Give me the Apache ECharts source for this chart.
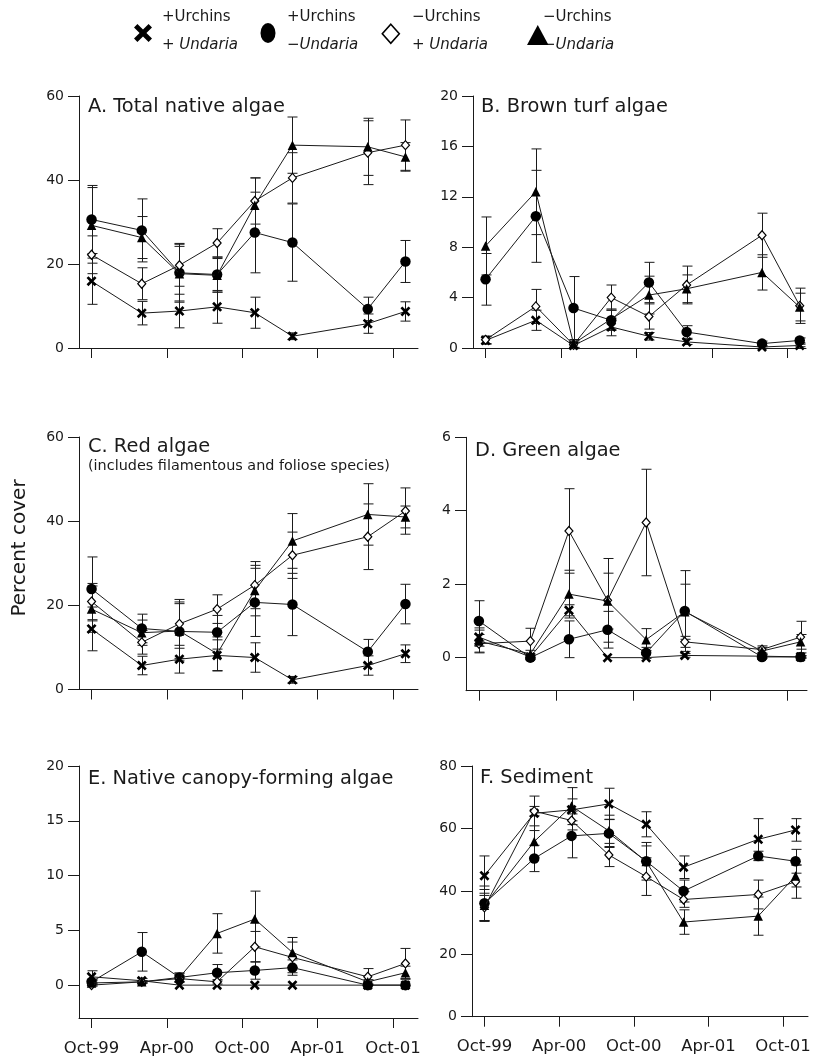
<!DOCTYPE html>
<html><head><meta charset="utf-8">
<script src="https://cdn.jsdelivr.net/npm/echarts@6/dist/echarts.min.js"></script>
<style>html,body{margin:0;padding:0;background:#fff}#c{width:820px;height:1058px}</style>
</head><body><div id="c"></div>
<script>
// ---- DATA ----
const months = [0, 4, 7, 10, 13, 16, 22, 25]; // months since Oct-99
const tickMonths = [0, 6, 12, 18, 24];
const tickLabels = ['Oct-99', 'Apr-00', 'Oct-00', 'Apr-01', 'Oct-01'];
const treatments = ['+Urchins +Undaria', '+Urchins −Undaria', '−Urchins +Undaria', '−Urchins −Undaria'];
const panelTitles = ['A. Total native algae', 'B. Brown turf algae', 'C. Red algae', 'D. Green algae', 'E. Native canopy-forming algae', 'F. Sediment'];
const subtitleC = '(includes filamentous and foliose species)';
const yAxisName = 'Percent cover';

// A. Total native algae
const A_pp = [15.9, 8.3, 8.8, 9.8, 8.4, 2.8, 5.8, 8.7];
const A_pp_err = [5.5, 2.8, 4.0, 3.9, 3.7, 0.8, 2.3, 2.3];
const A_pm = [30.6, 28.0, 17.9, 17.5, 27.5, 25.1, 9.3, 20.6];
const A_pm_err = [8.1, 7.5, 7.0, 4.2, 9.6, 9.2, 2.8, 5.0];
const A_mp = [22.2, 15.3, 19.7, 25.0, 35.0, 40.5, 46.5, 48.3];
const A_mp_err = [4.5, 3.8, 5.0, 3.4, 5.5, 6.0, 7.6, 6.0];
const A_mm = [29.2, 26.3, 17.7, 17.3, 34.0, 48.3, 47.9, 45.5];
const A_mm_err = [9.0, 5.0, 6.5, 4.0, 6.5, 6.7, 6.8, 3.4];
// B. Brown turf algae
const B_pp = [0.6, 2.2, 0.2, 1.67, 0.93, 0.48, 0.08, 0.2];
const B_pp_err = [0.3, 0.8, 0.2, 0.7, 0.3, 0.2, 0.1, 0.1];
const B_pm = [5.45, 10.45, 3.17, 2.2, 5.2, 1.27, 0.35, 0.6];
const B_pm_err = [2.05, 3.65, 2.5, 0.8, 1.6, 0.5, 0.2, 0.2];
const B_mp = [0.65, 3.3, 0.25, 4.0, 2.5, 5.0, 8.95, 3.35];
const B_mp_err = [0.3, 1.35, 0.3, 1.0, 1.0, 1.5, 1.75, 1.4];
const B_mm = [8.1, 12.4, 0.35, 2.3, 4.2, 4.7, 6.0, 3.25];
const B_mm_err = [2.3, 3.4, 0.3, 0.8, 1.5, 1.1, 1.4, 1.1];
// C. Red algae
const C_pp = [14.4, 5.7, 7.2, 8.1, 7.6, 2.3, 5.7, 8.5];
const C_pp_err = [5.2, 2.2, 3.3, 3.7, 3.5, 0.8, 2.3, 2.1];
const C_pm = [23.9, 14.5, 13.8, 13.6, 20.7, 20.2, 9.0, 20.3];
const C_pm_err = [7.6, 3.4, 7.0, 4.0, 8.1, 7.4, 2.9, 4.7];
const C_mp = [20.9, 11.2, 15.6, 19.1, 24.8, 31.9, 36.3, 42.4];
const C_mp_err = [4.3, 2.8, 5.8, 3.4, 5.6, 5.5, 7.8, 5.5];
const C_mm = [19.1, 13.5, 13.9, 8.5, 23.5, 35.3, 41.6, 41.0];
const C_mm_err = [5.5, 3.0, 6.5, 4.0, 6.0, 6.5, 7.3, 2.6];
// D. Green algae
const D_pp = [0.56, 0.02, 1.29, 0.0, 0.0, 0.06, 0.04, 0.02];
const D_pp_err = [0.25, 0.05, 0.15, 0, 0, 0.05, 0.05, 0.03];
const D_pm = [1.0, 0.0, 0.5, 0.76, 0.13, 1.27, 0.02, 0.02];
const D_pm_err = [0.55, 0.05, 0.5, 0.5, 0.15, 1.1, 0.03, 0.03];
const D_mp = [0.38, 0.45, 3.45, 1.56, 3.68, 0.43, 0.22, 0.56];
const D_mp_err = [0.25, 0.35, 1.15, 1.14, 1.45, 0.15, 0.1, 0.43];
const D_mm = [0.45, 0.1, 1.73, 1.54, 0.49, 1.25, 0.18, 0.43];
const D_mm_err = [0.3, 0.1, 0.65, 0.76, 0.3, 0.75, 0.1, 0.2];
// E. Native canopy-forming algae
const E_pp = [0.76, 0.4, 0, 0, 0, 0, 0, 0];
const E_pp_err = [0.55, 0.2, 0, 0, 0, 0, 0, 0];
const E_pm = [0.3, 3.04, 0.7, 1.13, 1.34, 1.6, 0, 0];
const E_pm_err = [0.2, 1.76, 0.4, 0.75, 0.8, 0.7, 0, 0];
const E_mp = [0.0, 0.3, 0.6, 0.3, 3.5, 2.53, 0.76, 1.98];
const E_mp_err = [0.1, 0.1, 0.3, 0.2, 1.4, 1.4, 0.75, 1.37];
const E_mm = [0.2, 0.3, 0.7, 4.72, 6.03, 2.98, 0.3, 1.13];
const E_mm_err = [0.2, 0.1, 0.4, 1.8, 2.55, 1.37, 0.2, 0.6];
// F. Sediment
const F_pp = [45.0, 64.9, 66.0, 67.9, 61.4, 47.7, 56.6, 59.6];
const F_pp_err = [6.3, 5.5, 3.5, 5.0, 4.0, 3.6, 6.6, 3.6];
const F_pm = [36.2, 50.5, 57.7, 58.5, 49.6, 40.1, 51.3, 49.6];
const F_pm_err = [5.5, 4.2, 7.0, 4.5, 6.0, 3.5, 1.5, 3.8];
const F_mp = [34.9, 65.6, 62.6, 51.6, 44.7, 37.4, 39.0, 43.1];
const F_mp_err = [4.5, 1.5, 3.0, 3.7, 6.0, 2.5, 4.6, 5.3];
const F_mm = [35.6, 55.9, 67.2, 59.3, 49.5, 30.2, 32.1, 44.9];
const F_mm_err = [5.0, 5.0, 5.9, 5.0, 5.0, 3.9, 6.1, 3.5];

const yTicksA = [0, 20, 40, 60];
const yTicksB = [0, 4, 8, 12, 16, 20];
const yTicksC = [0, 20, 40, 60];
const yTicksD = [0, 2, 4, 6];
const yTicksE = [0, 5, 10, 15, 20];
const yTicksF = [0, 20, 40, 60, 80];

// ---- LAYOUT / STYLE ----
const FONT = 'DejaVu Sans';
const INK = '#1a1a1a';
const panels = [
  {means: [A_pp, A_pm, A_mp, A_mm], errs: [A_pp_err, A_pm_err, A_mp_err, A_mm_err], yticks: yTicksA,
   grid: {left: 79, top: 96, width: 339, height: 252}, x: [-1, 26], y: [0, 60], labels: false},
  {means: [B_pp, B_pm, B_mp, B_mm], errs: [B_pp_err, B_pm_err, B_mp_err, B_mm_err], yticks: yTicksB,
   grid: {left: 473, top: 96, width: 333, height: 252}, x: [-1, 25.5], y: [0, 20], labels: false},
  {means: [C_pp, C_pm, C_mp, C_mm], errs: [C_pp_err, C_pm_err, C_mp_err, C_mm_err], yticks: yTicksC,
   grid: {left: 79, top: 437, width: 339, height: 252.5}, x: [-1, 26], y: [0, 60], labels: false},
  {means: [D_pp, D_pm, D_mp, D_mm], errs: [D_pp_err, D_pm_err, D_mp_err, D_mm_err], yticks: yTicksD,
   grid: {left: 466, top: 437.3, width: 341, height: 253.4}, x: [-1, 25.5], y: [-0.9, 6], labels: false},
  {means: [E_pp, E_pm, E_mp, E_mm], errs: [E_pp_err, E_pm_err, E_mp_err, E_mm_err], yticks: yTicksE,
   grid: {left: 79, top: 766, width: 339, height: 252}, x: [-1, 26], y: [-3, 20], labels: true},
  {means: [F_pp, F_pm, F_mp, F_mm], errs: [F_pp_err, F_pm_err, F_mp_err, F_mm_err], yticks: yTicksF,
   grid: {left: 472, top: 766, width: 336, height: 250.7}, x: [-1, 26], y: [0, 80], labels: true}
];

const crossPath = 'path://M0,1.9 L1.9,0 L5,3.1 L8.1,0 L10,1.9 L6.9,5 L10,8.1 L8.1,10 L5,6.9 L1.9,10 L0,8.1 L3.1,5 Z';
const ellipsePath = 'path://M10,0 A10,10 0 1,1 10,20 A10,10 0 1,1 10,0 Z';
const markerStyles = [
  {symbol: crossPath, size: 10, item: {color: '#000'}},
  {symbol: 'circle', size: 10.5, item: {color: '#000'}},
  {symbol: 'diamond', size: [8, 9], item: {color: '#fff', borderColor: '#000', borderWidth: 1.2}},
  {symbol: 'triangle', size: 9.5, item: {color: '#000'}}
];

function errRender(params, api) {
  const x = api.value(0), m = api.value(1), e = api.value(2);
  if (!(e > 0)) return null;
  const t = api.coord([x, m + e]), b = api.coord([x, m - e]);
  const px = Math.round(t[0]) + 0.5, hw = 5;
  const st = {stroke: INK, lineWidth: 1};
  return {type: 'group', children: [
    {type: 'line', shape: {x1: px, y1: t[1], x2: px, y2: b[1]}, style: st},
    {type: 'line', shape: {x1: px - hw, y1: t[1], x2: px + hw, y2: t[1]}, style: st},
    {type: 'line', shape: {x1: px - hw, y1: b[1], x2: px + hw, y2: b[1]}, style: st}
  ]};
}

const grids = [], xAxes = [], yAxes = [], series = [];
panels.forEach((p, pi) => {
  grids.push(Object.assign({containLabel: false}, p.grid));
  xAxes.push({
    type: 'value', gridIndex: pi, min: p.x[0], max: p.x[1], position: 'bottom',
    axisLine: {show: true, onZero: false, lineStyle: {color: INK, width: 1}},
    axisTick: {show: true, length: 10, customValues: tickMonths, lineStyle: {color: INK, width: 1}},
    axisLabel: {show: p.labels, customValues: tickMonths, margin: 22, fontSize: 16.5, fontFamily: FONT, color: INK,
      formatter: v => tickLabels[tickMonths.indexOf(Math.round(v))] || ''},
    splitLine: {show: false}
  });
  yAxes.push({
    type: 'value', gridIndex: pi, min: p.y[0], max: p.y[1],
    axisLine: {show: true, onZero: false, lineStyle: {color: INK, width: 1}},
    axisTick: {show: true, length: 11, customValues: p.yticks, lineStyle: {color: INK, width: 1}},
    axisLabel: {show: true, customValues: p.yticks, margin: 15, fontSize: 14, fontFamily: FONT, color: INK},
    splitLine: {show: false}
  });
  // error bars first
  p.means.forEach((mean, ti) => {
    series.push({
      type: 'custom', name: 'err' + pi + '_' + ti, xAxisIndex: pi, yAxisIndex: pi, silent: true, z: 1,
      renderItem: errRender, encode: {x: 0, y: 1},
      data: months.map((m, i) => [m, mean[i], p.errs[ti][i]])
    });
  });
  p.means.forEach((mean, ti) => {
    const ms = markerStyles[ti];
    series.push({
      type: 'line', name: treatments[ti], xAxisIndex: pi, yAxisIndex: pi, z: 2 + ti,
      symbol: ms.symbol, symbolSize: ms.size, showSymbol: true, showAllSymbol: true,
      itemStyle: ms.item, lineStyle: {color: INK, width: 1}, silent: true,
      emphasis: {disabled: true},
      data: months.map((m, i) => [m, mean[i]])
    });
  });
});

// legend icons (one legend per treatment, positioned like the reference)
const legendSpec = [
  {icon: crossPath, left: 134, top: 24, w: 18, h: 18},
  {icon: ellipsePath, left: 260.5, top: 23, w: 15, h: 20},
  {icon: 'path://M5,0 L10,5.5 L5,11 L0,5.5 Z', left: 381.5, top: 23.5, w: 17, h: 19, st: {color: '#fff', borderColor: '#000', borderWidth: 1.6}},
  {icon: 'path://M5,0 L10,10 L0,10 Z', left: 527, top: 25, w: 21.5, h: 20}
];
const legends = legendSpec.map((l, i) => ({
  data: [Object.assign({name: treatments[i], icon: l.icon}, l.st ? {itemStyle: l.st} : {})],
  left: l.left, top: l.top, padding: 0, itemWidth: l.w, itemHeight: l.h, itemGap: 0,
  symbolKeepAspect: false, selectedMode: false, formatter: () => '', textStyle: {fontSize: 1}
}));

// legend texts
const legendLine1 = ['+Urchins', '+Urchins', '−Urchins', '−Urchins'];
const legendLine2Sign = ['+ ', '−', '+ ', '−'];
const legendTextX = [162, 287, 412, 543];
const graphics = [];
legendTextX.forEach((x, i) => {
  graphics.push({type: 'text', x: x, y: 17, style: {text: legendLine1[i], font: '15px "' + FONT + '"', fill: INK, textVerticalAlign: 'middle'}});
  graphics.push({type: 'text', x: x, y: 45, style: {text: '{n|' + legendLine2Sign[i] + '}{i|Undaria}', fill: INK, textVerticalAlign: 'middle',
    rich: {n: {fontFamily: FONT, fontSize: 15, fill: INK}, i: {fontFamily: FONT, fontSize: 15, fontStyle: 'italic', fill: INK}}}});
});
const titlePos = [[88, 107], [481, 107], [88, 446.5], [475, 451], [88, 779], [480, 778]];
panelTitles.forEach((t, i) => {
  graphics.push({type: 'text', x: titlePos[i][0], y: titlePos[i][1], style: {text: t, font: '19.4px "' + FONT + '"', fill: INK, textVerticalAlign: 'middle'}});
});
graphics.push({type: 'text', x: 88, y: 466.5, style: {text: subtitleC, font: '14.4px "' + FONT + '"', fill: INK, textVerticalAlign: 'middle'}});
graphics.push({type: 'text', x: 20, y: 548, rotation: Math.PI / 2, style: {text: yAxisName, font: '20px "' + FONT + '"', fill: INK, textAlign: 'center', textVerticalAlign: 'middle'}});

const chart = echarts.init(document.getElementById('c'), null, {renderer: 'canvas'});
chart.setOption({
  animation: false,
  backgroundColor: '#fff',
  textStyle: {fontFamily: FONT},
  grid: grids, xAxis: xAxes, yAxis: yAxes, series: series,
  legend: legends, graphic: graphics
});
</script></body></html>
